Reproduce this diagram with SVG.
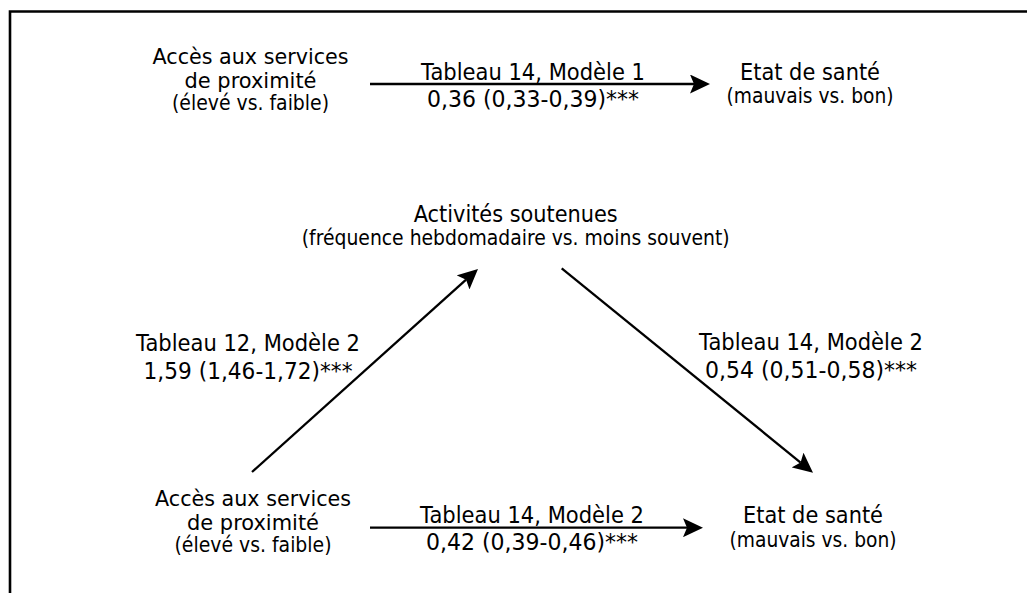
<svg xmlns="http://www.w3.org/2000/svg" width="1027" height="593" viewBox="0 0 1027 593">
<style>
text{font-family:"DejaVu Sans","Liberation Sans",sans-serif;fill:#000;text-anchor:middle}
.m{font-size:23px}
.n{font-size:22px}
.s{font-size:21px}
.c{stroke:#000;stroke-width:2.3;fill:none}
</style>
<defs>
<marker id="ah" markerUnits="userSpaceOnUse" viewBox="0 0 20 19" markerWidth="20" markerHeight="19" refX="4" refY="9.5" orient="auto">
<path d="M0,0 L20,9.5 L0,19 L4,9.5 z" fill="#000"/>
</marker>
</defs>
<rect width="1027" height="593" fill="#fff"/>
<path d="M10,593 V11.5 H1027" stroke="#000" stroke-width="2.6" fill="none"/>
<g id="connectors">
<line class="c" x1="370" y1="84" x2="694" y2="84" marker-end="url(#ah)"/>
<line class="c" x1="370" y1="527.7" x2="687" y2="527.7" marker-end="url(#ah)"/>
<line class="c" x1="252" y1="472" x2="466.1" y2="279.7" marker-end="url(#ah)"/>
<line class="c" x1="561.7" y1="268.3" x2="800.6" y2="462.6" marker-end="url(#ah)"/>
</g>
<g id="labels">
<text class="m" x="533" y="79.5" textLength="224" lengthAdjust="spacingAndGlyphs">Tableau 14, Modèle 1</text>
<text class="m" x="533" y="107" textLength="212" lengthAdjust="spacingAndGlyphs">0,36 (0,33-0,39)***</text>
<text class="m" x="248" y="350.5" textLength="224" lengthAdjust="spacingAndGlyphs">Tableau 12, Modèle 2</text>
<text class="m" x="248" y="378.5" textLength="209" lengthAdjust="spacingAndGlyphs">1,59 (1,46-1,72)***</text>
<text class="m" x="811" y="350" textLength="224" lengthAdjust="spacingAndGlyphs">Tableau 14, Modèle 2</text>
<text class="m" x="811" y="378" textLength="212" lengthAdjust="spacingAndGlyphs">0,54 (0,51-0,58)***</text>
<text class="m" x="532" y="522.5" textLength="224" lengthAdjust="spacingAndGlyphs">Tableau 14, Modèle 2</text>
<text class="m" x="532" y="550" textLength="212" lengthAdjust="spacingAndGlyphs">0,42 (0,39-0,46)***</text>
</g>
<g id="acces-top">
<text class="n" x="250.5" y="63.5" textLength="196" lengthAdjust="spacingAndGlyphs">Accès aux services</text>
<text class="n" x="250.5" y="87.5" textLength="132" lengthAdjust="spacingAndGlyphs">de proximité</text>
<text class="s" x="250.5" y="110" textLength="157" lengthAdjust="spacingAndGlyphs">(élevé vs. faible)</text>
</g>
<g id="etat-top">
<text class="m" x="810" y="79.5" textLength="140" lengthAdjust="spacingAndGlyphs">Etat de santé</text>
<text class="s" x="810" y="103" textLength="167" lengthAdjust="spacingAndGlyphs">(mauvais vs. bon)</text>
</g>
<g id="activites">
<text class="m" x="515.7" y="221.5" textLength="204" lengthAdjust="spacingAndGlyphs">Activités soutenues</text>
<text class="s" x="515.7" y="245" textLength="428" lengthAdjust="spacingAndGlyphs">(fréquence hebdomadaire vs. moins souvent)</text>
</g>
<g id="acces-bottom">
<text class="n" x="253" y="505.5" textLength="196" lengthAdjust="spacingAndGlyphs">Accès aux services</text>
<text class="n" x="253" y="529.5" textLength="132" lengthAdjust="spacingAndGlyphs">de proximité</text>
<text class="s" x="253" y="552" textLength="157" lengthAdjust="spacingAndGlyphs">(élevé vs. faible)</text>
</g>
<g id="etat-bottom">
<text class="m" x="813" y="523" textLength="140" lengthAdjust="spacingAndGlyphs">Etat de santé</text>
<text class="s" x="813" y="547" textLength="167" lengthAdjust="spacingAndGlyphs">(mauvais vs. bon)</text>
</g>
</svg>
